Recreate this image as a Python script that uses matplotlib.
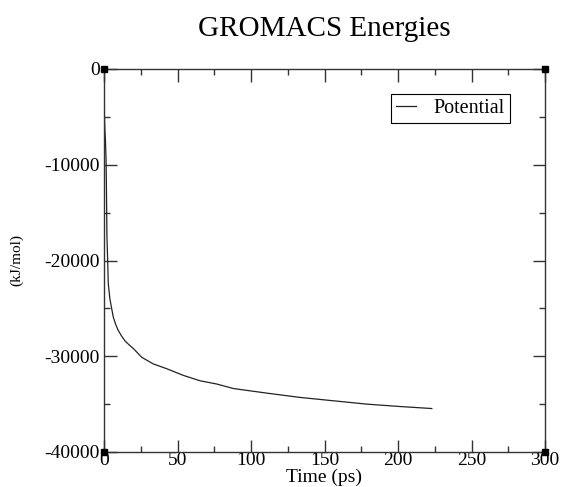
import matplotlib
matplotlib.use("Agg")
import matplotlib.pyplot as plt
from matplotlib.ticker import MultipleLocator

plt.rcParams['font.family'] = ['Liberation Serif', 'DejaVu Serif']
plt.rcParams['axes.unicode_minus'] = False

title = "GROMACS Energies"
xlabel = "Time (ps)"
ylabel = "(kJ/mol)"
series_name = "Potential"

time_ps = [0.0, 0.1, 0.3, 0.6, 1.0, 1.4, 1.7, 2.0, 2.5, 2.9, 4.0, 5.2, 6.3, 8.0,
           9.7, 12.0, 14.3, 17.0, 20.0, 25.6, 33.5, 42.6, 54.0, 65.3, 76.7,
           88.0, 110.7, 133.3, 156.0, 178.7, 201.4, 223.0]
potential = [-1400, -2400, -5000, -6400, -7500, -9500, -13000, -17500, -20000,
             -22400, -24000, -25000, -25900, -26700, -27300, -27900, -28400,
             -28800, -29200, -30100, -30800, -31300, -32000, -32560, -32900,
             -33370, -33850, -34300, -34650, -35000, -35250, -35460]

xlim = (0, 300)
ylim = (-40000, 0)

fig = plt.figure(figsize=(5.62, 4.87), dpi=100)
ax = fig.add_axes([104/562, 1 - 452/487, 441/562, 383/487])

ax.plot(time_ps, potential, color='#222222', lw=0.9, label=series_name)

ax.set_xlim(*xlim)
ax.set_ylim(*ylim)
ax.xaxis.set_major_locator(MultipleLocator(50))
ax.xaxis.set_minor_locator(MultipleLocator(25))
ax.yaxis.set_major_locator(MultipleLocator(10000))
ax.yaxis.set_minor_locator(MultipleLocator(5000))
ax.tick_params(which='both', direction='in', top=True, right=True,
               width=1, colors='#333333', labelcolor='black', labelsize=14)
ax.tick_params(which='major', length=9)
ax.tick_params(which='minor', length=4.5)
ax.tick_params(axis='x', pad=0)
ax.tick_params(axis='y', pad=3)
for s in ax.spines.values():
    s.set_linewidth(1.0)
    s.set_color('#333333')

# corner markers
for cx in xlim:
    for cy in ylim:
        ax.plot([cx], [cy], marker='s', ms=5, color='black', clip_on=False, zorder=5)

ax.set_title(title, fontsize=21, pad=24)
ax.set_xlabel(xlabel, fontsize=14, labelpad=-0.5)
ax.set_ylabel(ylabel, fontsize=11, labelpad=15)

leg = ax.legend(loc='upper right', bbox_to_anchor=(0.921, 0.935), fontsize=14.5,
                frameon=True, fancybox=False, edgecolor='black', framealpha=1,
                handlelength=1.0, borderpad=0.25, handletextpad=0.9,
                borderaxespad=0)
leg.get_frame().set_linewidth(0.8)

fig.savefig("out.png", dpi=100)
